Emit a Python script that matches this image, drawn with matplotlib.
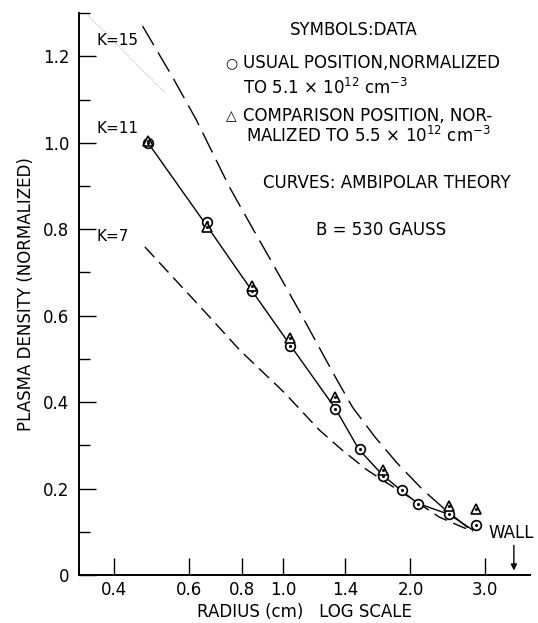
import matplotlib
matplotlib.use("Agg")
import matplotlib.pyplot as plt
from matplotlib.ticker import FixedLocator, NullLocator, MultipleLocator

plt.rcParams['font.family'] = ['DejaVu Sans']

# measured density, usual probe position (normalized)
r_usual = [0.48, 0.663, 0.847, 1.04, 1.33, 1.52, 1.72, 1.91, 2.08, 2.47, 2.85]
n_usual = [1.0, 0.816, 0.657, 0.530, 0.383, 0.292, 0.230, 0.197, 0.165, 0.141, 0.116]

# measured density, comparison position (normalized)
r_comp = [0.48, 0.663, 0.847, 1.04, 1.33, 1.72, 2.47, 2.85]
n_comp = [1.005, 0.805, 0.668, 0.548, 0.412, 0.244, 0.160, 0.153]

# ambipolar theory curves
r_k15 = [0.466, 0.55, 0.625, 0.748, 0.85, 0.93, 1.09, 1.22, 1.34, 1.46, 1.65, 1.86, 2.14, 2.38, 2.72, 2.81]
n_k15 = [1.27, 1.15, 1.052, 0.897, 0.80, 0.733, 0.613, 0.525, 0.452, 0.388, 0.319, 0.259, 0.197, 0.157, 0.111, 0.104]

r_k11 = [0.48, 0.663, 0.847, 1.04, 1.33, 1.51, 1.72, 1.91, 2.08, 2.47, 2.81]
n_k11 = [1.0, 0.806, 0.656, 0.532, 0.385, 0.291, 0.231, 0.194, 0.166, 0.140, 0.104]

r_k7 = [0.472, 0.671, 0.791, 1.01, 1.09, 1.22, 1.38, 1.58, 1.76, 1.99, 2.34, 2.65, 2.81]
n_k7 = [0.759, 0.597, 0.520, 0.421, 0.386, 0.335, 0.289, 0.243, 0.213, 0.180, 0.134, 0.111, 0.101]

# faint guide line near K = 15
r_guide = [0.328, 0.525]
n_guide = [1.318, 1.117]

x_ticks = [0.4, 0.6, 0.8, 1.0, 1.4, 2.0, 3.0]
x_labels = ['0.4', '0.6', '0.8', '1.0', '1.4', '2.0', '3.0']
y_ticks = [0, 0.2, 0.4, 0.6, 0.8, 1.0, 1.2]
y_labels = ['0', '0.2', '0.4', '0.6', '0.8', '1.0', '1.2']

wall_r = 3.51

fig = plt.figure(figsize=(5.38, 6.23), dpi=100)
ax = fig.add_axes([0.147, 0.077, 0.838, 0.902])

ax.set_xscale('log')
ax.set_xlim(0.33, 3.83)
ax.set_ylim(0, 1.3)

ax.plot(r_guide, n_guide, color='#aaaaaa', lw=0.7, ls=(0, (1, 1.5)))
ax.plot(r_k15, n_k15, color='black', lw=1.0, dashes=(16, 6))
ax.plot(r_k11, n_k11, color='black', lw=1.0)
ax.plot(r_k7, n_k7, color='black', lw=1.0, dashes=(10, 5))

ax.plot(r_usual, n_usual, ls='none', marker='o', ms=7, mfc='white', mec='black', mew=1.2)
ax.plot(r_comp, n_comp, ls='none', marker='^', ms=7, mfc='white', mec='black', mew=1.2)
ax.plot(r_usual + r_comp, n_usual + n_comp, ls='none', marker='o', ms=1.2, color='black')

# axes styling: only left and bottom, ticks pointing in
for side in ['top', 'right']:
    ax.spines[side].set_visible(False)
for side in ['left', 'bottom']:
    ax.spines[side].set_linewidth(1.4)

ax.xaxis.set_major_locator(FixedLocator(x_ticks))
ax.xaxis.set_minor_locator(NullLocator())
ax.set_xticklabels(x_labels)
ax.set_yticks(y_ticks)
ax.set_yticklabels(y_labels)
ax.yaxis.set_minor_locator(MultipleLocator(0.1))
ax.tick_params(which='major', direction='in', length=12, width=1.0, labelsize=12)
ax.tick_params(axis='x', which='major', pad=4)
ax.tick_params(axis='y', which='major', pad=7)
ax.tick_params(which='minor', direction='in', length=8, width=1.0)

ax.set_xlabel('RADIUS (cm)   LOG SCALE', fontsize=12, labelpad=3)
ax.set_ylabel('PLASMA DENSITY (NORMALIZED)', fontsize=12, labelpad=6)

# curve labels
ax.text(0.362, 1.237, 'K=15', fontsize=11, va='center')
ax.text(0.362, 1.034, 'K=11', fontsize=11, va='center')
ax.text(0.362, 0.782, 'K=7', fontsize=11, va='center')

# key and notes
tx = 243 / 538
def fy(py):
    return 1 - py / 623

fig.text(354 / 538, fy(30), 'SYMBOLS:DATA', fontsize=12, ha='center', va='center')
fig.text(231 / 538, fy(63), '○', fontsize=10, ha='center', va='center')
fig.text(tx, fy(63), 'USUAL POSITION,NORMALIZED', fontsize=12, va='center')
fig.text(tx, fy(88), r'TO 5.1 $\times$ 10$^{12}$ cm$^{-3}$', fontsize=12, va='center')
fig.text(231 / 538, fy(116), '△', fontsize=10, ha='center', va='center')
fig.text(tx, fy(116), 'COMPARISON POSITION, NOR-', fontsize=12, va='center')
fig.text(tx + 3 / 538, fy(136), r'MALIZED TO 5.5 $\times$ 10$^{12}$ cm$^{-3}$', fontsize=12, va='center')
fig.text(387 / 538, fy(183), 'CURVES: AMBIPOLAR THEORY', fontsize=12, ha='center', va='center')
fig.text(381 / 538, fy(230), 'B = 530 GAUSS', fontsize=12, ha='center', va='center')

# wall marker
ax.text(3.06, 0.097, 'WALL', fontsize=12, va='center')
ax.annotate('', xy=(wall_r, 0.004), xytext=(wall_r, 0.075),
            arrowprops=dict(arrowstyle='-|>', color='black', lw=1.0, mutation_scale=9))

fig.savefig('out.png', dpi=100, facecolor='white')
